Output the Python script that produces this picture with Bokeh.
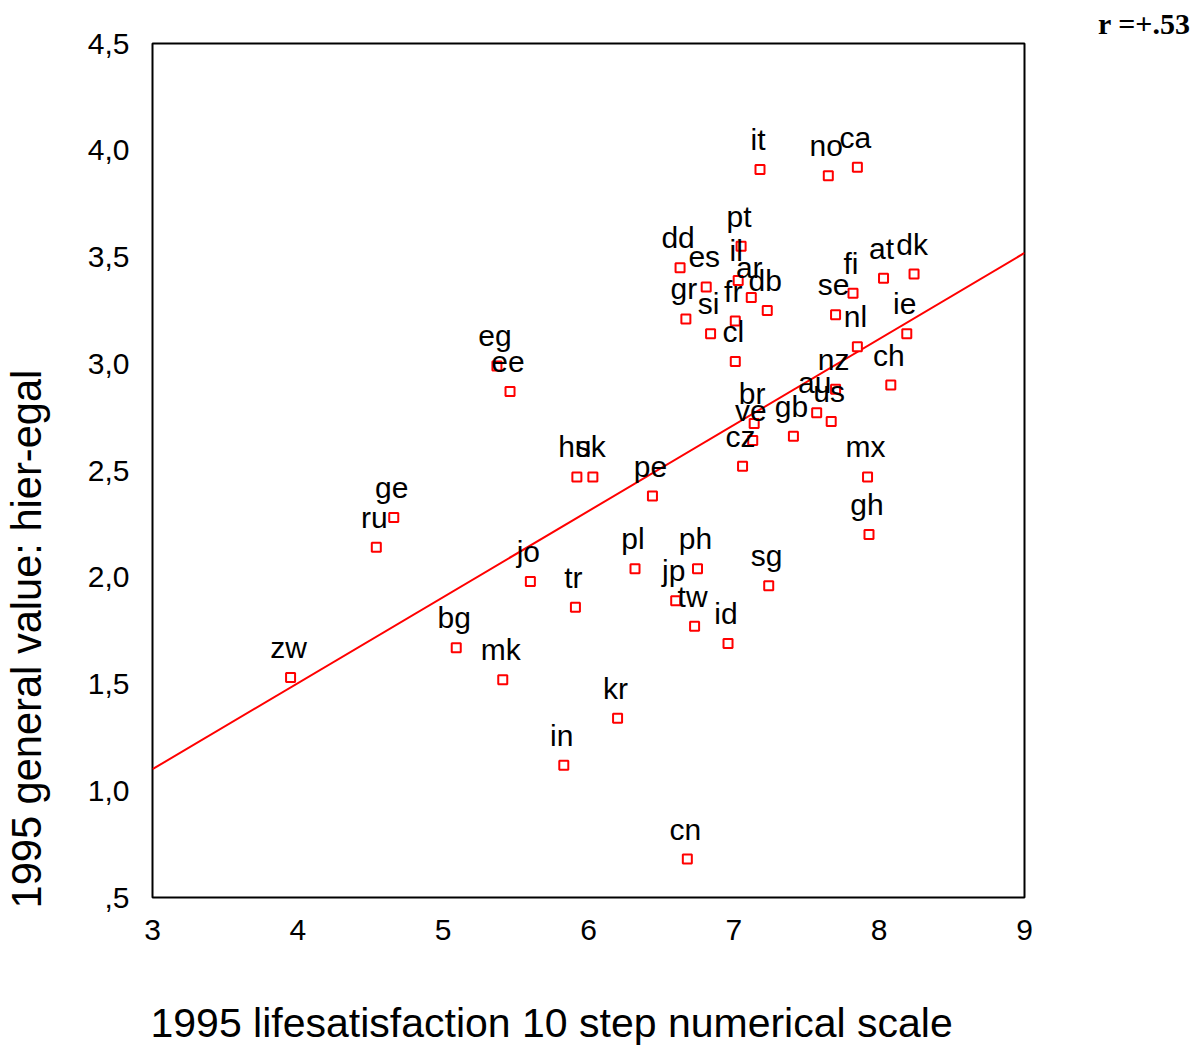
from bokeh.plotting import figure
from bokeh.models import Range1d, FixedTicker, Title, Label, ColumnDataSource
from bokeh.core.properties import value
from bokeh.embed import file_html
from bokeh.resources import INLINE

countries = ["it", "no", "ca", "pt", "dd", "es", "il", "ar", "db", "gr", "si", "fr", "cl",
             "fi", "se", "at", "dk", "nl", "ie", "ch", "nz", "au", "us", "br", "ve", "gb",
             "cz", "mx", "gh", "eg", "ee", "hu", "sk", "pe", "ge", "ru", "zw", "bg", "mk",
             "jo", "tr", "pl", "ph", "jp", "tw", "id", "sg", "kr", "in", "cn"]
lifesat = [7.18, 7.65, 7.85, 7.05, 6.63, 6.81, 7.03, 7.12, 7.23, 6.67, 6.84, 7.01, 7.01,
           7.82, 7.70, 8.03, 8.24, 7.85, 8.19, 8.08, 7.70, 7.57, 7.67, 7.14, 7.13, 7.41,
           7.06, 7.92, 7.93, 5.37, 5.46, 5.92, 6.03, 6.44, 4.66, 4.54, 3.95, 5.09, 5.41,
           5.60, 5.91, 6.32, 6.75, 6.60, 6.73, 6.96, 7.24, 6.20, 5.83, 6.68]
hier_egal = [3.91, 3.88, 3.92, 3.55, 3.45, 3.36, 3.39, 3.31, 3.25, 3.21, 3.14, 3.20, 3.01,
             3.33, 3.23, 3.40, 3.42, 3.08, 3.14, 2.90, 2.88, 2.77, 2.73, 2.72, 2.64, 2.66,
             2.52, 2.47, 2.20, 2.99, 2.87, 2.47, 2.47, 2.38, 2.28, 2.14, 1.53, 1.67, 1.52,
             1.98, 1.86, 2.04, 2.04, 1.89, 1.77, 1.69, 1.96, 1.34, 1.12, 0.68]

x_ticks = [3, 4, 5, 6, 7, 8, 9]
x_tick_labels = ["3", "4", "5", "6", "7", "8", "9"]
y_ticks = [0.5, 1.0, 1.5, 2.0, 2.5, 3.0, 3.5, 4.0, 4.5]
y_tick_labels = [",5", "1,0", "1,5", "2,0", "2,5", "3,0", "3,5", "4,0", "4,5"]
x_min, x_max = 3, 9
y_min, y_max = 0.5, 4.5
fit_intercept = -0.108
fit_slope = 0.403
r_text = "r =+.53"
x_title = "1995 lifesatisfaction 10 step numerical scale"
y_title = "1995 general value: hier-egal"

FONT = "Liberation Sans"

p = figure(frame_width=872, frame_height=854,
           x_range=Range1d(x_min, x_max), y_range=Range1d(y_min, y_max),
           output_backend="svg", toolbar_location=None,
           min_border_left=152, min_border_right=174,
           min_border_top=43, min_border_bottom=150)

p.xgrid.visible = False
p.ygrid.visible = False
p.outline_line_color = "black"
p.outline_line_width = 2
p.outline_line_alpha = 1.0
p.background_fill_color = "white"
p.border_fill_color = "white"

for ax in (p.xaxis[0], p.yaxis[0]):
    ax.axis_line_color = None
    ax.major_tick_line_color = None
    ax.minor_tick_line_color = None
    ax.major_tick_out = 0
    ax.major_tick_in = 0
    ax.minor_tick_out = 0
    ax.major_label_text_font = FONT
    ax.major_label_text_font_size = "30px"
    ax.major_label_text_color = "black"

p.xaxis[0].ticker = FixedTicker(ticks=x_ticks)
p.xaxis[0].major_label_overrides = {t: l for t, l in zip(x_ticks, x_tick_labels)}
p.xaxis[0].major_label_standoff = 22
p.yaxis[0].ticker = FixedTicker(ticks=y_ticks)
p.yaxis[0].major_label_overrides = {t: l for t, l in zip(y_ticks, y_tick_labels)}
p.yaxis[0].major_label_standoff = 23

# regression line
fit_x = [x_min, x_max]
fit_y = [fit_intercept + fit_slope * v for v in fit_x]
p.line(fit_x, fit_y, line_color="#ff0000", line_width=2)

src = ColumnDataSource(dict(x=lifesat, y=hier_egal, label=countries))
p.scatter("x", "y", source=src, marker="square", size=9,
          line_color="#ff0000", line_width=2, fill_color="white")
p.text("x", "y", text="label", source=src, x_offset=-2, y_offset=-30,
       text_align="center", text_baseline="middle",
       text_font=value(FONT), text_font_size="30px", text_color="black")

xt = Title(text=x_title, align="left", text_font=FONT, text_font_size="41px",
           text_font_style="normal", text_color="black", standoff=111, offset=-2)
p.add_layout(xt, "below")

yl = Label(x=-11, y=-11, x_units="screen", y_units="screen", text=y_title,
           angle=90, angle_units="deg", text_align="left", text_baseline="middle",
           text_font=FONT, text_font_size="41.6px", text_color="black")
p.add_layout(yl, "left")

rt = Title(text=r_text, align="right", text_font="Liberation Serif",
           text_font_style="bold", text_font_size="30px", text_color="black",
           standoff=8, offset=-166)
p.add_layout(rt, "above")

open("out.html", "w").write(file_html(p, INLINE))
